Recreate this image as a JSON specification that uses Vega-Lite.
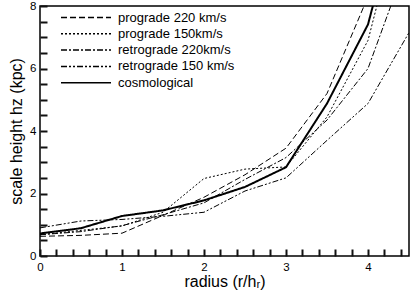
{
  "$schema": "https://vega.github.io/schema/vega-lite/v6.json",
  "width": 369,
  "height": 250,
  "autosize": {"type": "none"},
  "padding": {"left": 40, "top": 6, "right": 6, "bottom": 37},
  "config": {
    "font": "Liberation Sans",
    "view": {"stroke": "black", "strokeWidth": 1.5},
    "axis": {"domain": false, "tickColor": "#111111", "tickWidth": 2, "labelColor": "black", "titleColor": "black", "grid": false, "labelFont": "Liberation Sans", "titleFont": "Liberation Sans", "titleFontWeight": "normal", "labelFontSize": 11.5, "titleFontSize": 16}
  },
  "datasets": {"curves": [
    {"series": "prograde 220 km/s", "r": 0, "hz": 0.63},
    {"series": "prograde 220 km/s", "r": 0.5, "hz": 0.66},
    {"series": "prograde 220 km/s", "r": 1, "hz": 0.73},
    {"series": "prograde 220 km/s", "r": 1.5, "hz": 1.3},
    {"series": "prograde 220 km/s", "r": 2, "hz": 1.88},
    {"series": "prograde 220 km/s", "r": 2.5, "hz": 2.6},
    {"series": "prograde 220 km/s", "r": 3, "hz": 3.45},
    {"series": "prograde 220 km/s", "r": 3.5, "hz": 5.2},
    {"series": "prograde 220 km/s", "r": 4, "hz": 8.3},
    {"series": "prograde 220 km/s", "r": 4.5, "hz": 11},
    {"series": "prograde 150km/s", "r": 0, "hz": 0.68},
    {"series": "prograde 150km/s", "r": 0.5, "hz": 0.82},
    {"series": "prograde 150km/s", "r": 1, "hz": 0.96},
    {"series": "prograde 150km/s", "r": 1.5, "hz": 1.4},
    {"series": "prograde 150km/s", "r": 2, "hz": 2.48},
    {"series": "prograde 150km/s", "r": 2.5, "hz": 2.78},
    {"series": "prograde 150km/s", "r": 3, "hz": 2.85},
    {"series": "prograde 150km/s", "r": 3.5, "hz": 4.45},
    {"series": "prograde 150km/s", "r": 4, "hz": 6.9},
    {"series": "prograde 150km/s", "r": 4.5, "hz": 12},
    {"series": "retrograde 220km/s", "r": 0, "hz": 0.68},
    {"series": "retrograde 220km/s", "r": 0.5, "hz": 0.78},
    {"series": "retrograde 220km/s", "r": 1, "hz": 0.97},
    {"series": "retrograde 220km/s", "r": 1.5, "hz": 1.32},
    {"series": "retrograde 220km/s", "r": 2, "hz": 1.7},
    {"series": "retrograde 220km/s", "r": 2.5, "hz": 2.45},
    {"series": "retrograde 220km/s", "r": 3, "hz": 3.15},
    {"series": "retrograde 220km/s", "r": 3.5, "hz": 4.35},
    {"series": "retrograde 220km/s", "r": 4, "hz": 6.0},
    {"series": "retrograde 220km/s", "r": 4.5, "hz": 9.6},
    {"series": "retrograde 150 km/s", "r": 0, "hz": 0.9},
    {"series": "retrograde 150 km/s", "r": 0.5, "hz": 1.12},
    {"series": "retrograde 150 km/s", "r": 1, "hz": 1.17},
    {"series": "retrograde 150 km/s", "r": 1.5, "hz": 1.27},
    {"series": "retrograde 150 km/s", "r": 2, "hz": 1.4},
    {"series": "retrograde 150 km/s", "r": 2.5, "hz": 2.08},
    {"series": "retrograde 150 km/s", "r": 3, "hz": 2.5},
    {"series": "retrograde 150 km/s", "r": 3.5, "hz": 3.7},
    {"series": "retrograde 150 km/s", "r": 4, "hz": 4.88},
    {"series": "retrograde 150 km/s", "r": 4.5, "hz": 7.15},
    {"series": "cosmological", "r": 0, "hz": 0.72},
    {"series": "cosmological", "r": 0.5, "hz": 0.89},
    {"series": "cosmological", "r": 1, "hz": 1.28},
    {"series": "cosmological", "r": 1.5, "hz": 1.46},
    {"series": "cosmological", "r": 2, "hz": 1.78},
    {"series": "cosmological", "r": 2.5, "hz": 2.21},
    {"series": "cosmological", "r": 3, "hz": 2.84},
    {"series": "cosmological", "r": 3.5, "hz": 4.88},
    {"series": "cosmological", "r": 4, "hz": 7.41},
    {"series": "cosmological", "r": 4.5, "hz": 12.4}
  ]},
  "data": {"name": "curves"},
  "encoding": {
    "x": {"field": "r", "type": "quantitative", "scale": {"domain": [0, 4.5], "nice": false},
      "axis": {"title": "radius (r/hᵣ)", "values": [0,0.2,0.4,0.6,0.8,1,1.2,1.4,1.6,1.8,2,2.2,2.4,2.6,2.8,3,3.2,3.4,3.6,3.8,4,4.2,4.4],
        "offset": -7, "tickSize": 7,
        "labelExpr": "datum.value % 1 === 0 ? format(datum.value, 'd') : ''", "labelPadding": 5, "titlePadding": 1, "labelFlush": false}},
    "y": {"field": "hz", "type": "quantitative", "scale": {"domain": [0, 8], "nice": false},
      "axis": {"title": "scale height  hz (kpc)", "values": [0,0.5,1,1.5,2,2.5,3,3.5,4,4.5,5,5.5,6,6.5,7,7.5,8],
        "offset": -7, "tickSize": 7,
        "labelExpr": "datum.value % 2 === 0 ? format(datum.value, 'd') : ''", "labelPadding": 4, "titlePadding": 5, "labelFlush": false}},
    "strokeDash": {"field": "series", "type": "nominal",
      "scale": {"domain": ["prograde 220 km/s", "prograde 150km/s", "retrograde 220km/s", "retrograde 150 km/s", "cosmological"],
        "range": [[6,3],[2,2],[6,2,2,2],[6,2,2,2,2,2],[1,0]]},
      "legend": {"title": null, "orient": "none", "legendX": 20, "legendY": 5, "symbolType": "stroke", "symbolSize": 2500, "clipHeight": 13, "symbolStrokeColor": "black", "labelFontSize": 13, "labelColor": "black", "labelOffset": 6, "rowPadding": 2.3, "labelFont": "Liberation Sans"}}
  },
  "layer": [
    {"mark": {"type": "line", "clip": true, "color": "black", "strokeWidth": 1}, "transform": [{"filter": "datum.series !== 'cosmological'"}]},
    {"mark": {"type": "line", "clip": true, "color": "black", "strokeWidth": 2}, "transform": [{"filter": "datum.series === 'cosmological'"}]}
  ]
}
